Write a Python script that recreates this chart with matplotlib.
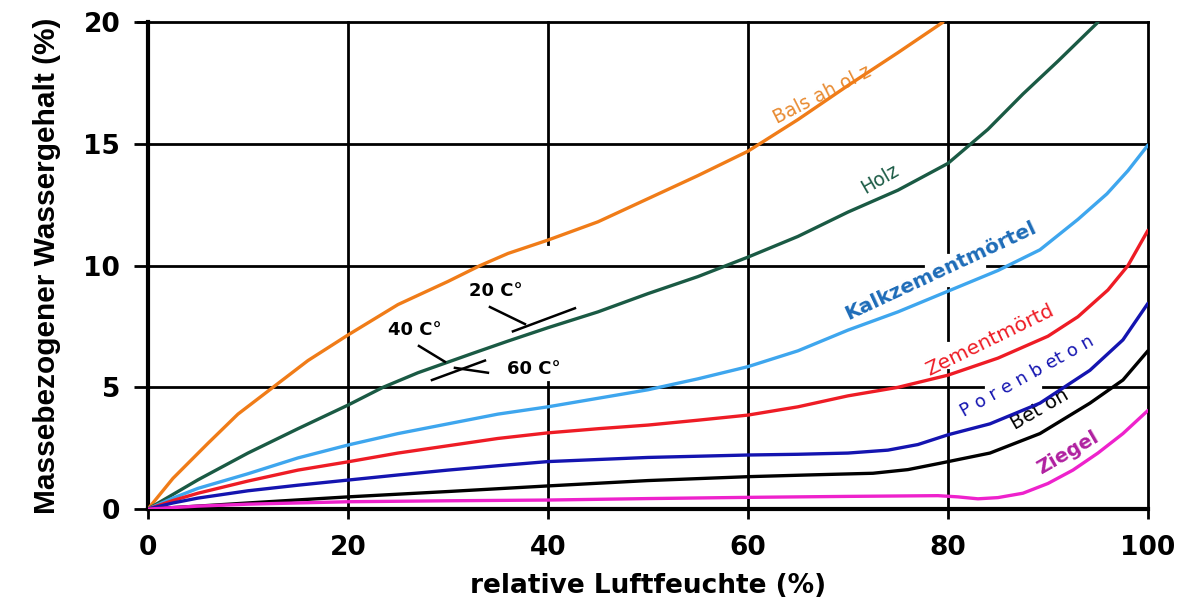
import numpy as np
import matplotlib.pyplot as plt

plt.rcParams['font.family'] = ['Liberation Sans', 'DejaVu Sans']

# relative humidity (%) and moisture content (%)
x_balsa = [0, 2.5, 6, 9, 12.5, 16, 20, 25, 30, 33.2, 36, 40, 45, 50, 55, 60, 65, 70, 75, 79.5]
y_balsa = [0, 1.26, 2.7, 3.9, 5.0, 6.1, 7.15, 8.4, 9.35, 10.0, 10.5, 11.05, 11.8, 12.75, 13.7, 14.7, 16.0, 17.4, 18.75, 20.0]

x_holz = [0, 2.5, 5, 10, 15, 20, 23.5, 27, 32.5, 36, 40, 45, 50, 55, 60, 65, 70, 75, 80, 84, 87.5, 91, 95]
y_holz = [0, 0.6, 1.2, 2.3, 3.3, 4.27, 5.0, 5.6, 6.4, 6.9, 7.45, 8.1, 8.85, 9.55, 10.35, 11.2, 12.2, 13.1, 14.2, 15.6, 17.05, 18.4, 20.0]

x_kalk = [0, 2.5, 5, 10, 15, 20, 25, 30, 35, 40, 45, 50, 55, 60, 65, 70, 75, 80, 85, 89.2, 93, 95.9, 98, 100]
y_kalk = [0, 0.45, 0.85, 1.45, 2.1, 2.63, 3.1, 3.5, 3.9, 4.2, 4.55, 4.9, 5.35, 5.85, 6.5, 7.35, 8.1, 8.95, 9.8, 10.65, 11.9, 12.95, 13.9, 14.95]

x_zem = [0, 2.5, 5, 10, 15, 20, 25, 30, 35, 40, 45, 50, 55, 60, 65, 70, 75, 80, 85, 90, 93, 96, 98, 100]
y_zem = [0, 0.35, 0.65, 1.15, 1.6, 1.94, 2.3, 2.6, 2.9, 3.13, 3.3, 3.45, 3.65, 3.86, 4.2, 4.65, 5.0, 5.5, 6.2, 7.1, 7.9, 9.0, 10.0, 11.45]

x_poren = [0, 2.5, 5, 10, 15, 20, 25, 30, 35, 40, 50, 60, 65, 70, 74, 77, 80, 84.2, 89.2, 94.2, 97.5, 100]
y_poren = [0, 0.25, 0.45, 0.75, 0.98, 1.19, 1.4, 1.6, 1.78, 1.95, 2.12, 2.22, 2.25, 2.3, 2.42, 2.65, 3.05, 3.5, 4.35, 5.7, 6.95, 8.45]

x_beton = [0, 5, 10, 20, 30, 40, 50, 60, 66, 72.5, 76, 79.2, 84.2, 89.2, 94.2, 97.5, 100]
y_beton = [0, 0.12, 0.25, 0.5, 0.72, 0.95, 1.17, 1.33, 1.4, 1.47, 1.62, 1.88, 2.3, 3.1, 4.35, 5.3, 6.5]

x_ziegel = [0, 5, 10, 20, 30, 40, 50, 60, 70, 79, 81, 83, 85, 87.5, 90, 92.5, 95, 97.5, 100]
y_ziegel = [0, 0.12, 0.2, 0.3, 0.34, 0.37, 0.43, 0.48, 0.52, 0.55, 0.5, 0.42, 0.47, 0.65, 1.05, 1.6, 2.3, 3.1, 4.05]

series = [
    (x_balsa, y_balsa, '#f07c18'),
    (x_holz, y_holz, '#1a5a44'),
    (x_kalk, y_kalk, '#3ea6ee'),
    (x_zem, y_zem, '#ee1c25'),
    (x_poren, y_poren, '#1414b0'),
    (x_beton, y_beton, '#000000'),
    (x_ziegel, y_ziegel, '#ee22cc'),
]

# grid segments (gaps where labels sit in the original)
vgrid = [(20, 0, 20), (40, 0, 5.2), (40, 10.9, 20), (60, 0, 20),
         (80, 0, 5.7), (80, 6.95, 9.1), (80, 10.55, 20), (100, 0, 20)]
hgrid = [(5, 0, 83.5), (5, 89.5, 100), (10, 0, 77.5), (10, 83.9, 100),
         (15, 0, 100), (20, -1, 100)]

fig = plt.figure(figsize=(11.97, 6.01), dpi=100)
ax = fig.add_axes([0.1236, 0.153, 0.8354, 0.81])

for xv, y0, y1 in vgrid:
    ax.plot([xv, xv], [y0, y1], color='black', lw=2, zorder=1, clip_on=False)
for yv, x0, x1 in hgrid:
    ax.plot([x0, x1], [yv, yv], color='black', lw=2, zorder=1, clip_on=False)

for xs, ys, c in series:
    ax.plot(xs, ys, color=c, lw=2.4, zorder=3, solid_capstyle='round',
            solid_joinstyle='round')

# curve labels
lab = dict(ha='center', va='center', zorder=2, family='DejaVu Sans')
ax.text(67.4, 17.0, 'Bals ah ol z', color='#e88a30', fontsize=13.5, rotation=27, **lab)
ax.text(73.2, 13.55, 'Holz', color='#1a5a44', fontsize=13.5, rotation=30, **lab)
ax.text(79.3, 9.8, 'Kalkzementmörtel', color='#1e6cb8', fontsize=14.5, rotation=25,
        fontweight='bold', **lab)
ax.text(84.2, 6.95, 'Zementmörtd', color='#ee1c25', fontsize=14.5, rotation=26, **lab)
ax.text(87.9, 5.45, 'P o r e n b et o n', color='#1414b0', fontsize=13, rotation=29, **lab)
ax.text(89.2, 4.1, 'Bet on', color='black', fontsize=14, rotation=30, **lab)
ax.text(92.0, 2.3, 'Ziegel', color='#b020a0', fontsize=14, rotation=30,
        fontweight='bold', **lab)

# temperature marks on the wood curve
kw = dict(color='black', lw=1.8, zorder=4)
ax.plot([36.5, 42.7], [7.3, 8.25], **kw)
ax.plot([34.2, 37.7], [8.3, 7.6], **kw)
ax.plot([27.1, 29.7], [6.7, 6.05], **kw)
ax.plot([28.4, 33.7], [5.3, 6.1], **kw)
ax.plot([30.7, 34.0], [5.8, 5.6], **kw)
tkw = dict(fontsize=13, fontweight='bold', ha='center', va='center', zorder=4,
           family='DejaVu Sans')
ax.text(34.8, 8.95, '20 C°', **tkw)
ax.text(26.7, 7.35, '40 C°', **tkw)
ax.text(38.6, 5.75, '60 C°', **tkw)

ax.set_xlim(0, 100)
ax.set_ylim(0, 20)
ax.set_xticks([0, 20, 40, 60, 80, 100])
ax.set_yticks([0, 5, 10, 15, 20])
tick_font = dict(fontsize=19, fontweight='bold', family='DejaVu Sans')
ax.set_xticklabels(['0', '20', '40', '60', '80', '100'], **tick_font)
ax.set_yticklabels(['0', '5', '10', '15', '20'], **tick_font)
ax.tick_params(axis='y', direction='out', length=10, width=2, pad=10)
ax.tick_params(axis='x', direction='out', length=7, width=2, pad=12)
for s in ['top', 'right']:
    ax.spines[s].set_visible(False)
for s in ['left', 'bottom']:
    ax.spines[s].set_linewidth(3)

ax.set_xlabel('relative Luftfeuchte (%)', fontsize=19, fontweight='bold',
              family='DejaVu Sans', labelpad=8)
ax.set_ylabel('Massebezogener Wassergehalt (%)', fontsize=21.5, fontweight='bold',
              family='Liberation Sans', labelpad=16)

fig.savefig('out.png', dpi=100)
